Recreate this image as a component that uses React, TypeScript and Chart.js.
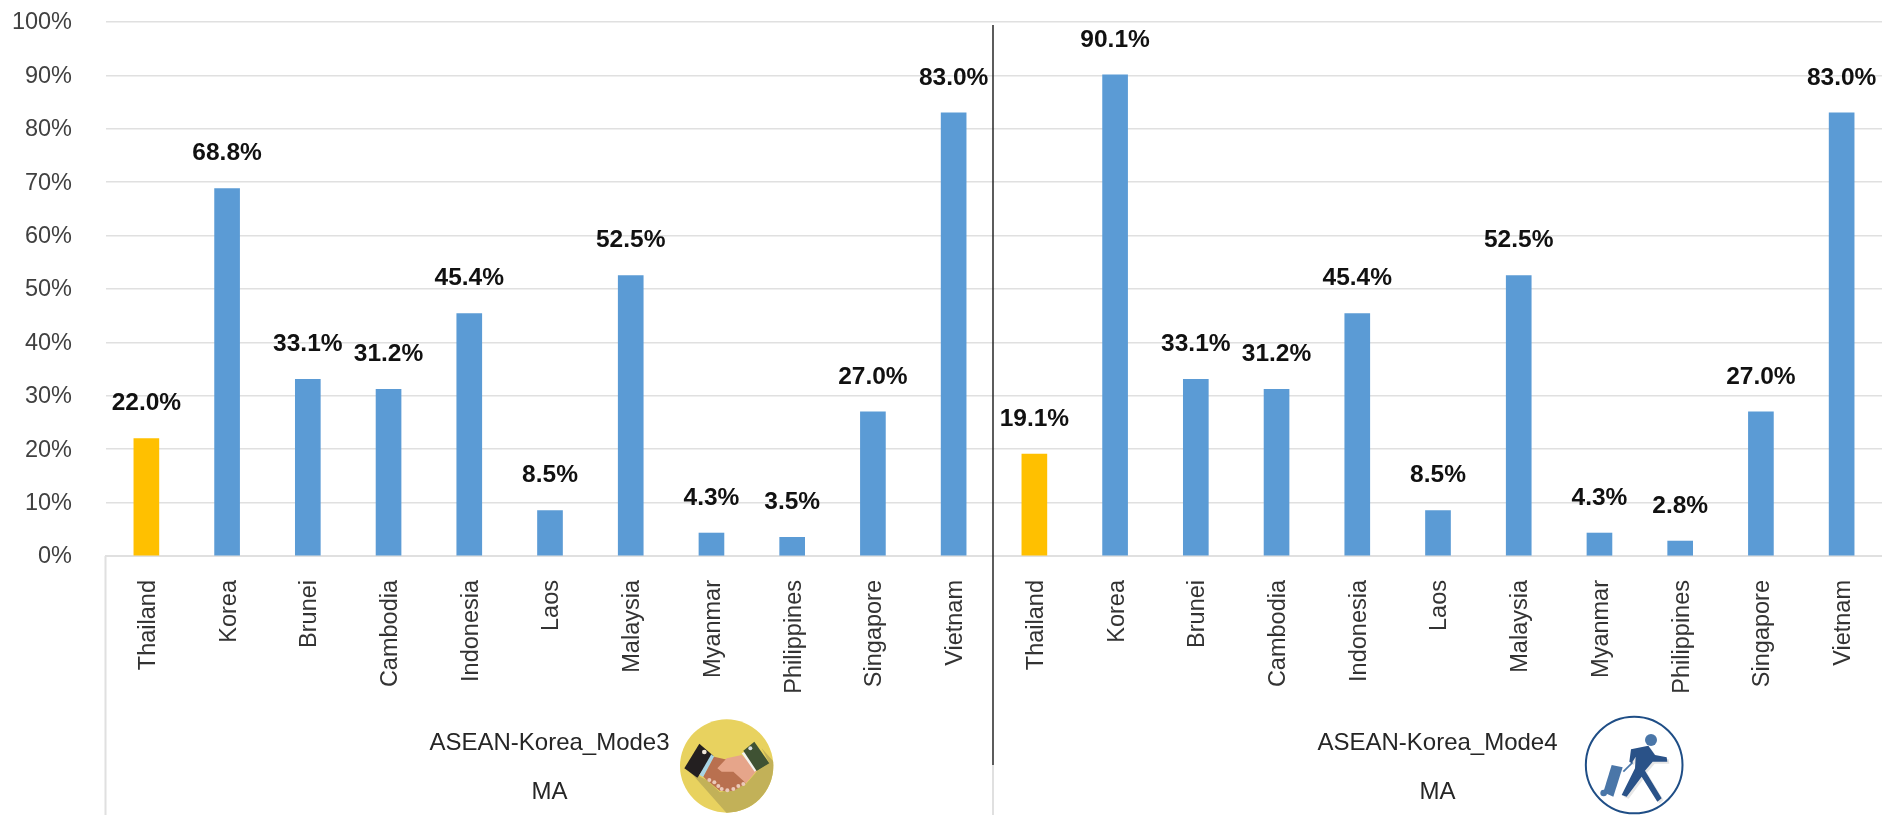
import React, { useEffect, useRef } from "react";
import { Chart, registerables } from "chart.js";

Chart.register(...registerables);

const countries = ["Thailand", "Korea", "Brunei", "Cambodia", "Indonesia", "Laos", "Malaysia", "Myanmar", "Philippines", "Singapore", "Vietnam"];
const mode3Values = [22.0, 68.8, 33.1, 31.2, 45.4, 8.5, 52.5, 4.3, 3.5, 27.0, 83.0];
const mode4Values = [19.1, 90.1, 33.1, 31.2, 45.4, 8.5, 52.5, 4.3, 2.8, 27.0, 83.0];
const groupNames = ["ASEAN-Korea_Mode3", "ASEAN-Korea_Mode4"];
const subGroupName = "MA";

const FONT = '"Liberation Sans", Arial, sans-serif';
const BLUE = "#5B9BD5";
const GOLD = "#FFC000";
const GRID = "#E0E0E0";
const TEXT = "#404040";

function poly(ctx: CanvasRenderingContext2D, pts: number[][], fill: string) {
  ctx.beginPath();
  pts.forEach(([x, y], i) => (i ? ctx.lineTo(x, y) : ctx.moveTo(x, y)));
  ctx.closePath();
  ctx.fillStyle = fill;
  ctx.fill();
}

function dot(ctx: CanvasRenderingContext2D, x: number, y: number, r: number, fill: string) {
  ctx.beginPath();
  ctx.arc(x, y, r, 0, Math.PI * 2);
  ctx.fillStyle = fill;
  ctx.fill();
}

function handshakeIcon(ctx: CanvasRenderingContext2D) {
  ctx.save();
  ctx.translate(670, 705);
  ctx.scale(1 / 3, 1 / 3);
  ctx.save();
  ctx.beginPath();
  ctx.arc(170, 183, 140, 0, Math.PI * 2);
  ctx.fillStyle = "#E8D25F";
  ctx.fill();
  ctx.clip();
  poly(ctx, [[60, 200], [110, 225], [150, 262], [225, 240], [262, 198], [298, 175], [275, 130], [320, 180], [320, 330], [175, 330]], "#C2B158");
  ctx.restore();
  poly(ctx, [[88, 116], [130, 152], [82, 218], [43, 190]], "#231F20");
  dot(ctx, 103, 141, 7, "#EFE6D8");
  poly(ctx, [[124, 148], [133, 156], [100, 216], [88, 210]], "#A9D4E4");
  poly(ctx, [[132, 155], [175, 165], [228, 235], [190, 258], [150, 258], [110, 225], [100, 215]], "#B9704F");
  poly(ctx, [[215, 150], [262, 195], [228, 235], [190, 200], [155, 200], [142, 190], [170, 160]], "#E6A58A");
  poly(ctx, [[215, 145], [224, 140], [262, 193], [254, 200]], "#F4F4F0");
  poly(ctx, [[220, 137], [253, 110], [298, 175], [260, 198]], "#3F5233");
  dot(ctx, 241, 130, 6, "#D8DDE0");
  [[118, 225], [133, 232], [145, 243], [155, 252], [172, 256], [190, 252], [205, 243], [220, 237]].forEach(([x, y]) => dot(ctx, x, y, 6, "#EBC9BA"));
  ctx.restore();
}

function walkerIcon(ctx: CanvasRenderingContext2D) {
  const body = [[183, 133], [235, 122], [255, 150], [290, 157], [292, 170], [248, 170], [225, 197], [275, 280], [262, 290], [215, 215], [170, 275], [155, 270], [195, 190], [197, 155], [185, 175], [178, 170]];
  ctx.save();
  ctx.translate(1570, 705);
  ctx.scale(1 / 3, 1 / 3);
  ctx.beginPath();
  ctx.arc(192.5, 180, 145, 0, Math.PI * 2);
  ctx.strokeStyle = "#1F4E86";
  ctx.lineWidth = 6;
  ctx.stroke();
  poly(ctx, body.map(([x, y]) => [x + 6, y + 6]), "#E6E6E6");
  dot(ctx, 243, 105, 18, "#4A76A8");
  poly(ctx, [[125, 180], [158, 187], [130, 275], [100, 262]], "#4A76A8");
  dot(ctx, 101, 264, 10, "#4A76A8");
  ctx.strokeStyle = "#4A76A8";
  ctx.lineWidth = 5;
  ctx.beginPath();
  ctx.moveTo(160, 200);
  ctx.lineTo(188, 172);
  ctx.stroke();
  poly(ctx, body, "#2A5288");
  ctx.restore();
}

const panelPlugin = {
  id: "panels",
  afterDraw(chart: any) {
    const { ctx, scales, chartArea, height } = chart;
    const x = scales.x;
    const n = countries.length;
    const split = (x.getPixelForValue(n - 1) + x.getPixelForValue(n)) / 2 - 1;
    ctx.save();
    ctx.strokeStyle = GRID;
    ctx.lineWidth = 2;
    ctx.beginPath();
    ctx.moveTo(chartArea.left - 0.5, chartArea.bottom);
    ctx.lineTo(chartArea.left - 0.5, height);
    ctx.moveTo(split, 765);
    ctx.lineTo(split, height);
    ctx.stroke();
    ctx.strokeStyle = "#262626";
    ctx.lineWidth = 1.5;
    ctx.beginPath();
    ctx.moveTo(split, 25);
    ctx.lineTo(split, 765);
    ctx.stroke();
    ctx.font = `24px ${FONT}`;
    ctx.textAlign = "center";
    ctx.textBaseline = "middle";
    const centers = [(chartArea.left + split) / 2, (split + chartArea.right) / 2];
    centers.forEach((c, i) => {
      ctx.fillStyle = "#262626";
      ctx.fillText(groupNames[i], c, 743);
      ctx.fillText(subGroupName, c, 792);
    });
    handshakeIcon(ctx);
    walkerIcon(ctx);
    ctx.restore();
  },
};

const valueLabelPlugin = {
  id: "valueLabels",
  afterDatasetsDraw(chart: any) {
    const { ctx } = chart;
    const meta = chart.getDatasetMeta(0);
    const values = chart.data.datasets[0].data as number[];
    ctx.save();
    ctx.font = `bold 24.5px ${FONT}`;
    ctx.fillStyle = "#111111";
    ctx.textAlign = "center";
    ctx.textBaseline = "middle";
    meta.data.forEach((bar: any, i: number) => {
      ctx.fillText(`${values[i].toFixed(1)}%`, bar.x, bar.y - 35);
    });
    ctx.restore();
  },
};

export default function App() {
  const ref = useRef<HTMLCanvasElement>(null);
  useEffect(() => {
    const labels = [...countries, ...countries];
    const data = [...mode3Values, ...mode4Values];
    const chart = new Chart(ref.current!, {
      type: "bar",
      data: {
        labels,
        datasets: [
          {
            data,
            backgroundColor: labels.map((l) => (l === "Thailand" ? GOLD : BLUE)),
            barThickness: 25,
            borderWidth: 0,
          },
        ],
      },
      options: {
        animation: false,
        responsive: false,
        layout: { padding: { top: 22, left: 0, right: 0, bottom: 0 } },
        plugins: { legend: { display: false }, tooltip: { enabled: false } },
        scales: {
          x: {
            grid: { display: false, drawTicks: false },
            border: { color: GRID, width: 2 },
            afterFit(s: any) {
              s.height = 259;
              s.paddingLeft = 0;
              s.paddingRight = 0;
            },
            ticks: {
              autoSkip: false,
              minRotation: 90,
              maxRotation: 90,
              padding: 24,
              labelOffset: 2,
              color: "#333333",
              font: { family: FONT, size: 23.5 },
            },
          },
          y: {
            min: 0,
            max: 100,
            afterFit(s: any) {
              s.width = 106;
              s.paddingTop = 0;
              s.paddingBottom = 0;
            },
            grid: { color: GRID, lineWidth: 1.5, drawTicks: false },
            border: { display: false },
            ticks: {
              stepSize: 10,
              padding: 34,
              labelOffset: 1,
              color: TEXT,
              font: { family: FONT, size: 23.5 },
              callback: (v: any) => `${v}%`,
            },
          },
        },
      },
      plugins: [panelPlugin, valueLabelPlugin],
    } as any);
    return () => chart.destroy();
  }, []);
  return (
    <div style={{ position: "absolute", left: 0, top: 0, width: 1882, height: 815, overflow: "hidden", background: "#fff" }}>
      <canvas ref={ref} width={1882} height={815} style={{ display: "block" }} />
    </div>
  );
}
